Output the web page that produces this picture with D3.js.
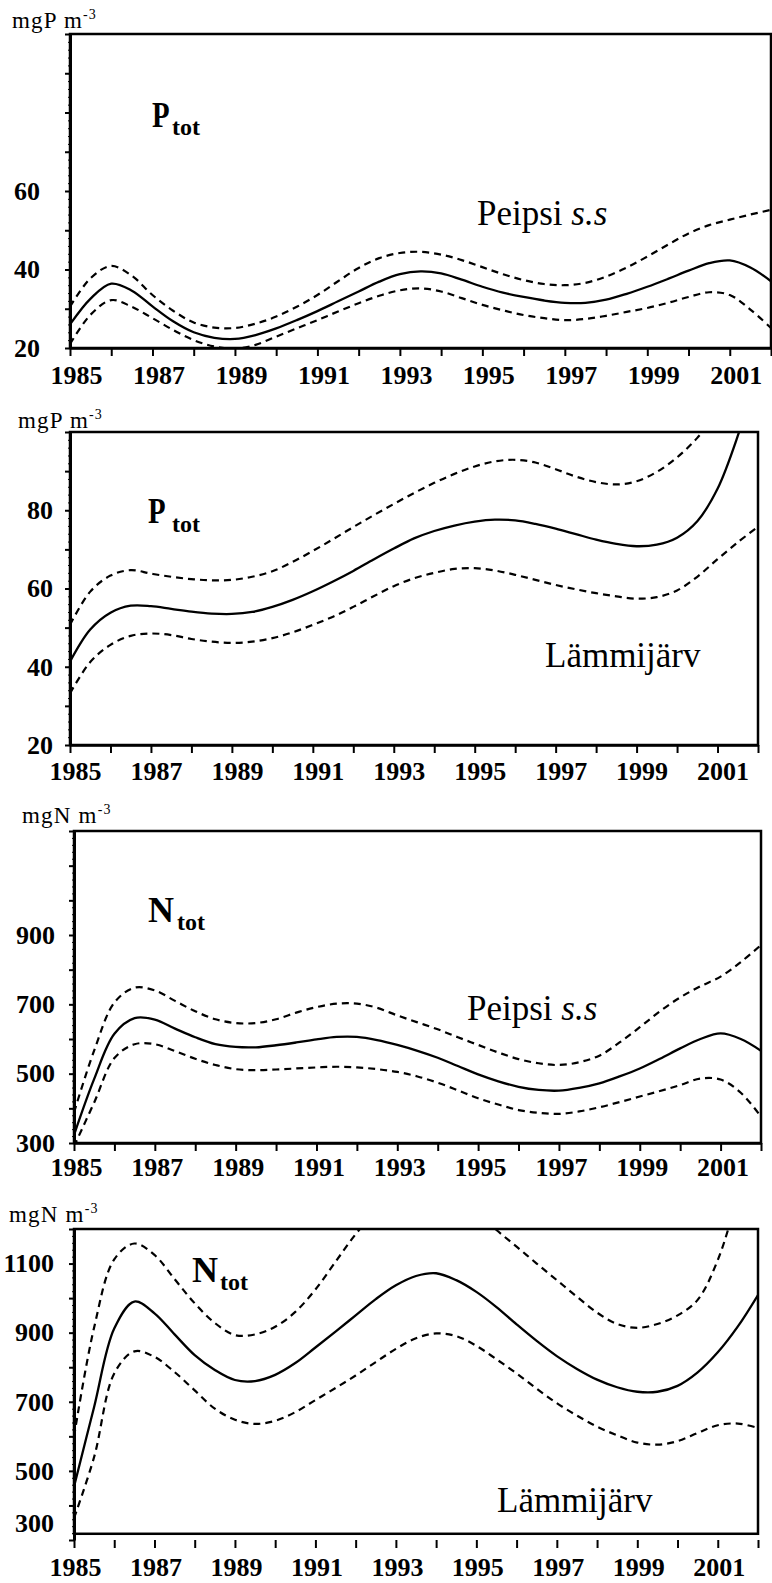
<!DOCTYPE html>
<html>
<head>
<meta charset="utf-8">
<script src="https://cdn.jsdelivr.net/npm/d3@7/dist/d3.min.js"></script>
<style>
  body { margin: 0; background: #fff; font-family: "Liberation Serif", "DejaVu Serif", serif; }
  svg text { fill: #000; }
</style>
</head>
<body>
<div id="chart"></div>
<script>
// half-year sample grid
const YEARS = [1985, 1985.5, 1986, 1986.5, 1987, 1987.5, 1988, 1988.5, 1989, 1989.5,
  1990, 1990.5, 1991, 1991.5, 1992, 1992.5, 1993, 1993.5, 1994, 1994.5,
  1995, 1995.5, 1996, 1996.5, 1997, 1997.5, 1998, 1998.5, 1999, 1999.5,
  2000, 2000.5, 2001, 2001.5, 2002];

const TICK_YEARS = [1985, 1986, 1987, 1988, 1989, 1990, 1991, 1992, 1993,
  1994, 1995, 1996, 1997, 1998, 1999, 2000, 2001, 2002];
const LABEL_YEARS = [1985, 1987, 1989, 1991, 1993, 1995, 1997, 1999, 2001];

// P tot, Peipsi s.s (mgP m-3)
const P_PEIPSI_MEAN = [26, 32.6, 36.4, 34.6, 30.6, 26.8, 24, 22.6, 22.3, 23.3,
  25, 27.1, 29.4, 31.9, 34.4, 36.9, 38.8, 39.5, 39, 37.4,
  35.6, 34.1, 33, 32.1, 31.5, 31.5, 32.3, 33.8, 35.6, 37.6,
  39.7, 41.6, 42.3, 40.5, 37];
const P_PEIPSI_UPPER = [30.5, 37.8, 40.9, 38.4, 33.5, 29.5, 26.5, 25.2, 25.1, 26.2,
  28, 30.5, 33.5, 37, 40.4, 42.9, 44.2, 44.5, 43.8, 42.4,
  40.6, 38.8, 37.3, 36.3, 36, 36.6, 38.2, 40.5, 43.3, 46.3,
  49.2, 51.3, 52.7, 54, 55.2];
const P_PEIPSI_LOWER = [21, 28.5, 32.2, 30.5, 27.6, 24.6, 22, 20.4, 19.8, 20.8,
  22.9, 25, 27.1, 29.3, 31.4, 33.3, 34.7, 35.2, 34.4, 32.7,
  31, 29.6, 28.4, 27.6, 27.1, 27.4, 28.2, 29.2, 30.2, 31.5,
  33, 34.2, 33.5, 29.8, 25.1];

// P tot, Lämmijärv (mgP m-3)
const P_LAMMI_MEAN = [41.3, 49.5, 53.8, 55.6, 55.5, 54.8, 54.1, 53.6, 53.5, 54,
  55.3, 57.1, 59.3, 61.8, 64.5, 67.4, 70.2, 72.8, 74.7, 76.1,
  77.1, 77.6, 77.4, 76.5, 75.3, 73.9, 72.5, 71.4, 70.8, 71.2,
  73, 77.2, 85.5, 99, 116];
const P_LAMMI_UPPER = [50.7, 59.2, 63.3, 64.7, 63.8, 63, 62.4, 62.1, 62.2, 63,
  64.4, 66.8, 69.6, 72.6, 75.7, 78.7, 81.6, 84.4, 87, 89.3,
  91.2, 92.5, 92.9, 92.2, 90.5, 88.6, 87.2, 86.6, 87.4, 89.8,
  93.5, 98.5, 105, 113, 122];
const P_LAMMI_LOWER = [33.2, 41.2, 45.6, 47.9, 48.5, 48.1, 47.1, 46.4, 46.1, 46.4,
  47.3, 48.8, 50.7, 52.8, 55.3, 58, 60.6, 62.6, 64, 65,
  65.2, 64.6, 63.5, 62.2, 60.9, 59.8, 58.8, 58, 57.4, 57.8,
  59.5, 63, 67.5, 71.8, 75.8];

// N tot, Peipsi s.s (mgN m-3)
const N_PEIPSI_MEAN = [323, 485, 615, 660, 656, 630, 605, 585, 577, 576,
  582, 590, 599, 606, 606, 597, 583, 566, 546, 522,
  498, 478, 462, 453, 451, 459, 472, 492, 515, 543,
  573, 600, 616, 600, 566];
const N_PEIPSI_UPPER = [388, 567, 705, 748, 740, 710, 680, 657, 646, 646,
  657, 676, 692, 702, 702, 690, 668, 648, 628, 605,
  583, 561, 542, 530, 525, 533, 552, 590, 634, 680,
  720, 752, 780, 822, 871];
const N_PEIPSI_LOWER = [290, 417, 545, 585, 585, 565, 543, 525, 513, 510,
  512, 515, 518, 520, 518, 513, 505, 492, 474, 452,
  429, 411, 395, 387, 384, 391, 403, 418, 434, 450,
  467, 486, 483, 445, 376];

// N tot, Lämmijärv (mgN m-3)
const N_LAMMI_MEAN = [454, 685, 912, 990, 956, 895, 835, 792, 763, 760,
  778, 812, 857, 903, 950, 997, 1037, 1064, 1072, 1052,
  1018, 974, 924, 876, 832, 795, 764, 742, 729, 729,
  746, 785, 843, 918, 1009];
const N_LAMMI_UPPER = [599, 915, 1112, 1158, 1125, 1055, 985, 928, 893, 895,
  917, 960, 1025, 1105, 1185, 1250, 1300, 1320, 1320, 1290,
  1250, 1197, 1149, 1100, 1052, 1004, 958, 925, 914, 925,
  950, 995, 1110, 1290, 1450];
const N_LAMMI_LOWER = [363, 540, 782, 846, 830, 786, 733, 680, 648, 636,
  645, 670, 705, 740, 776, 815, 853, 884, 898, 890,
  862, 823, 782, 738, 696, 660, 628, 603, 582, 576,
  586, 610, 632, 637, 624];

const P_Y_LABELS = [20, 40, 60, 80];
const N_Y_LABELS = [300, 500, 700, 900, 1100];

const W = 772, H = 1583;
const SERIF = "'Liberation Serif', 'DejaVu Serif', 'Times New Roman', Times, serif";

const svg = d3.select("#chart")
  .append("svg")
  .attr("width", W)
  .attr("height", H)
  .style("font-family", SERIF);

const panels = [
  { mean: P_PEIPSI_MEAN, upper: P_PEIPSI_UPPER, lower: P_PEIPSI_LOWER,
    yDomain: [20, 100], major: 10, minor: 2, yLabels: [20, 40, 60],
    left: 70, right: 771, top: 34, bottom: 348, yPad: 25, xPad: 10, xShift: 6,
    unit: "mgP m", unitX: 12, unitY: 28,
    sym: "P", symX: 152, symY: 127, subX: 172, subY: 135,
    place: "Peipsi", italic: "s.s", placeX: 477, placeY: 225 },
  { mean: P_LAMMI_MEAN, upper: P_LAMMI_UPPER, lower: P_LAMMI_LOWER,
    yDomain: [20, 100], major: 10, minor: 2, yLabels: P_Y_LABELS,
    left: 70, right: 758, top: 432, bottom: 745, yPad: 12, xPad: 9, xShift: 5,
    unit: "mgP m", unitX: 18, unitY: 428,
    sym: "P", symX: 148, symY: 523, subX: 172, subY: 532,
    place: "Lämmijärv", italic: "", placeX: 545, placeY: 667 },
  { mean: N_PEIPSI_MEAN, upper: N_PEIPSI_UPPER, lower: N_PEIPSI_LOWER,
    yDomain: [300, 1200], major: 100, minor: 20, yLabels: [300, 500, 700, 900],
    left: 74, right: 761, top: 831, bottom: 1143, yPad: 14, xPad: 7, xShift: 2,
    unit: "mgN m", unitX: 22, unitY: 823,
    sym: "N", symX: 148, symY: 922, subX: 177, subY: 930,
    place: "Peipsi", italic: "s.s", placeX: 467, placeY: 1020 },
  { mean: N_LAMMI_MEAN, upper: N_LAMMI_UPPER, lower: N_LAMMI_LOWER,
    yDomain: [300, 1200], major: 100, minor: 20, yLabels: N_Y_LABELS,
    left: 74, right: 758, top: 1229, bottom: 1540, boxBottomValue: 318,
    yPad: 15, xPad: 10, xShift: 1, noXDomain: true, lowLabelLift: -9,
    unit: "mgN m", unitX: 9, unitY: 1222,
    sym: "N", symX: 192, symY: 1282, subX: 220, subY: 1290,
    place: "Lämmijärv", italic: "", placeX: 497, placeY: 1512 }
];

panels.forEach((p, i) => drawPanel(p, i));

function drawPanel(p, i) {
  const x = d3.scaleLinear().domain([1985, 2002]).range([p.left, p.right]);
  const y = d3.scaleLinear().domain(p.yDomain).range([p.bottom, p.top]);
  const boxBottom = y(p.boxBottomValue !== undefined ? p.boxBottomValue : p.yDomain[0]);

  const g = svg.append("g");

  // clip the curves to the plot box
  const clipId = "clip-" + i;
  svg.append("clipPath").attr("id", clipId)
    .append("rect")
    .attr("x", p.left).attr("y", p.top)
    .attr("width", p.right - p.left)
    .attr("height", boxBottom - p.top);

  const line = d3.line()
    .x((d, k) => x(YEARS[k]))
    .y(d => y(d))
    .curve(d3.curveCatmullRom.alpha(0.5));

  const curves = g.append("g").attr("clip-path", `url(#${clipId})`);
  [p.upper, p.lower].forEach(s => {
    curves.append("path")
      .attr("d", line(s))
      .attr("fill", "none")
      .attr("stroke", "#000")
      .attr("stroke-width", 2.2)
      .attr("stroke-dasharray", "7,5");
  });
  curves.append("path")
    .attr("d", line(p.mean))
    .attr("fill", "none")
    .attr("stroke", "#000")
    .attr("stroke-width", 2.3);

  // frame
  g.append("rect")
    .attr("x", p.left).attr("y", p.top)
    .attr("width", p.right - p.left)
    .attr("height", boxBottom - p.top)
    .attr("fill", "none")
    .attr("stroke", "#000")
    .attr("stroke-width", 2.5);

  // y axis: minor ticks then labelled majors
  const minorTicks = d3.range(p.yDomain[0], p.yDomain[1] + 0.001, p.minor);
  const majorTicks = d3.range(p.yDomain[0], p.yDomain[1] + 0.001, p.major);

  g.append("g")
    .attr("transform", `translate(${p.left},0)`)
    .call(d3.axisLeft(y).tickValues(minorTicks).tickSize(2).tickSizeOuter(0).tickFormat(""))
    .call(a => a.select(".domain").remove())
    .call(a => a.selectAll(".tick line").attr("stroke-width", 1));

  const yAxis = g.append("g")
    .attr("transform", `translate(${p.left},0)`)
    .call(d3.axisLeft(y)
      .tickValues(majorTicks)
      .tickSize(5)
      .tickSizeOuter(0)
      .tickPadding(p.yPad)
      .tickFormat(d => p.yLabels.includes(d) ? d : ""));
  yAxis.attr("font-family", SERIF);
  yAxis.select(".domain").attr("stroke-width", 3);
  yAxis.selectAll(".tick line").attr("stroke-width", 2);
  yAxis.selectAll(".tick text")
    .attr("font-size", 26)
    .attr("font-weight", "bold")
    .attr("dy", d => (p.lowLabelLift && d === p.yDomain[0]) ? p.lowLabelLift : "0.32em");

  // x axis
  const xAxis = g.append("g")
    .attr("transform", `translate(0,${p.bottom})`)
    .call(d3.axisBottom(x)
      .tickValues(TICK_YEARS)
      .tickSize(8)
      .tickSizeOuter(0)
      .tickPadding(p.xPad)
      .tickFormat(d => LABEL_YEARS.includes(d) ? d : ""));
  xAxis.attr("font-family", SERIF);
  if (p.noXDomain) xAxis.select(".domain").remove();
  else xAxis.select(".domain").attr("stroke-width", 2.5);
  xAxis.selectAll(".tick line").attr("stroke-width", 2);
  xAxis.selectAll(".tick text")
    .attr("font-size", 26)
    .attr("font-weight", "bold")
    .attr("dx", p.xShift);

  // unit label
  const unit = g.append("text")
    .attr("x", p.unitX).attr("y", p.unitY)
    .attr("font-size", 23)
    .attr("letter-spacing", 1.2)
    .text(p.unit);
  unit.append("tspan")
    .attr("dy", -9)
    .attr("font-size", 14)
    .text("-3");

  // symbol with subscript
  g.append("text")
    .attr("transform", `translate(${p.symX},${p.symY}) scale(${p.sym === "P" ? 0.8 : 1},1)`)
    .attr("font-size", 36)
    .attr("font-weight", "bold")
    .text(p.sym);
  g.append("text")
    .attr("x", p.subX).attr("y", p.subY)
    .attr("font-size", 24)
    .attr("font-weight", "bold")
    .text("tot");

  // lake name
  const place = g.append("text")
    .attr("x", p.placeX).attr("y", p.placeY)
    .attr("font-size", 35)
    .text(p.place + (p.italic ? " " : ""));
  if (p.italic) {
    place.append("tspan").attr("font-style", "italic").text(p.italic);
  }
}
</script>
</body>
</html>
